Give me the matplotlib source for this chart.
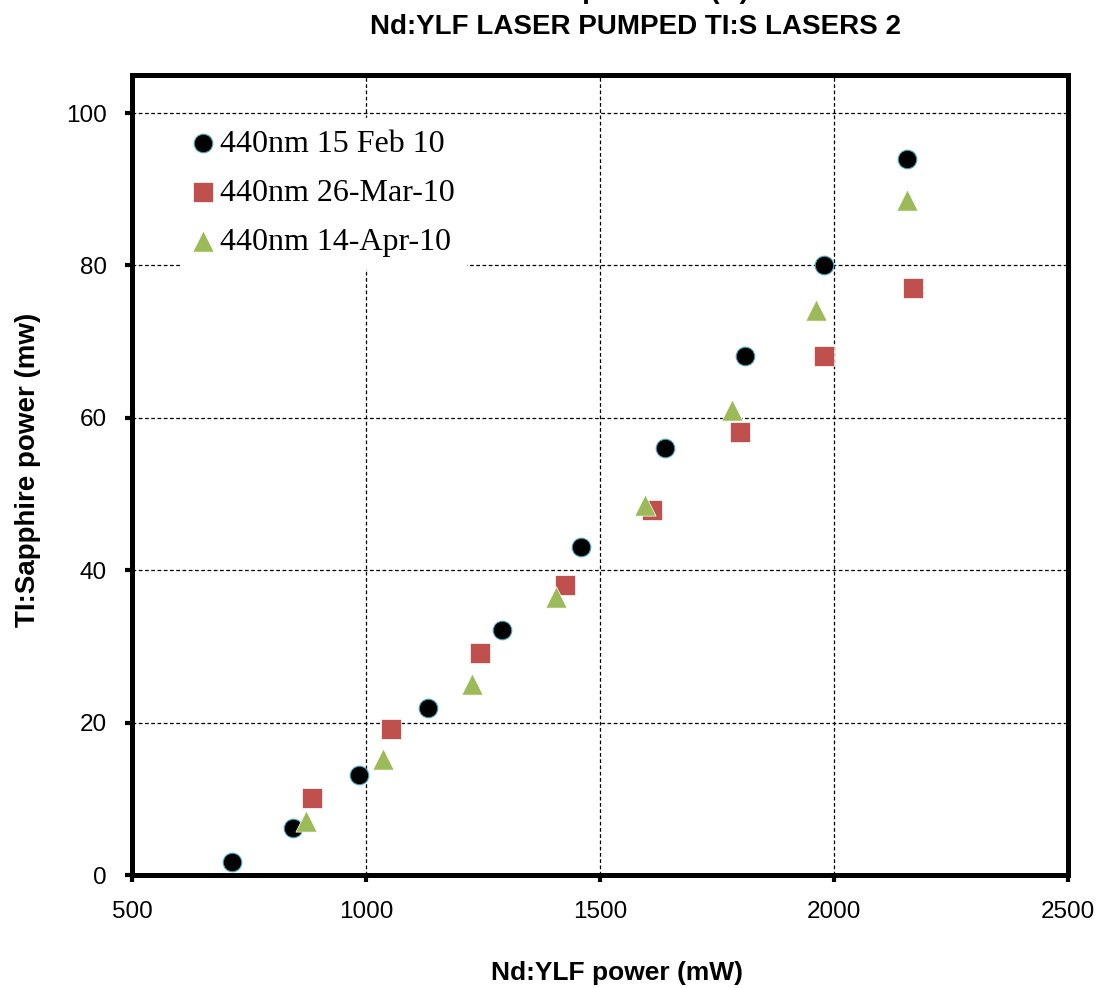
import matplotlib
matplotlib.use("Agg")
import matplotlib.pyplot as plt

# Data
feb_x = [713, 845, 985, 1132, 1291, 1460, 1638, 1809, 1979, 2157]
feb_y = [1.7, 6.2, 13.1, 21.9, 32.1, 43.1, 56.0, 68.1, 80.0, 94.0]
mar_x = [885, 1053, 1243, 1426, 1611, 1800, 1979, 2168]
mar_y = [10.1, 19.1, 29.1, 38.1, 47.9, 58.1, 68.1, 77.0]
apr_x = [872, 1036, 1226, 1406, 1596, 1783, 1962, 2155]
apr_y = [7.1, 15.2, 25.1, 36.5, 48.6, 61.0, 74.1, 88.6]
labels = ["440nm 15 Feb 10", "440nm 26-Mar-10", "440nm 14-Apr-10"]
x_ticks = [500, 1000, 1500, 2000, 2500]
y_ticks = [0, 20, 40, 60, 80, 100]

plt.rcParams['font.family'] = ['Liberation Sans', 'DejaVu Sans']

fig = plt.figure(figsize=(11, 9.88), dpi=100)
ax = fig.add_axes([132/1100, 1-875/988, (1068-132)/1100, (875-75)/988])

ms = 180
ax.scatter(feb_x, feb_y, s=ms, marker='o', color='black', edgecolors='#4bacc6',
           linewidths=0.8, zorder=3, label=labels[0])
ax.scatter(mar_x, mar_y, s=ms*1.08, marker='s', color='#C0504D', edgecolors='white',
           linewidths=0.5, zorder=3, label=labels[1])
ax.scatter(apr_x, apr_y, s=ms*1.3, marker='^', color='#9BBB59', edgecolors='white',
           linewidths=0.5, zorder=3, label=labels[2])

ax.set_xlim(500, 2500)
ax.set_ylim(0, 105)
ax.set_xticks(x_ticks)
ax.set_yticks(y_ticks)
ax.tick_params(axis='both', direction='out', length=5, width=3, labelsize=17.5, colors='black')
ax.tick_params(axis='x', pad=14)
ax.tick_params(axis='y', pad=13)
ax.grid(True, color='black', linestyle=(0, (3, 2)), linewidth=0.9, zorder=1)
for sp in ax.spines.values():
    sp.set_linewidth(3.6)
    sp.set_color('black')

ax.set_xlabel("Nd:YLF power (mW)", fontsize=19, fontweight='bold', labelpad=27)
ax.set_ylabel("TI:Sapphire power (mw)", fontsize=20, fontweight='bold', labelpad=18)
ax.xaxis.label.set_x((617-132)/936)
ax.yaxis.label.set_y((875-470)/800)

leg = ax.legend(loc='upper left', bbox_to_anchor=((182-132)/936, (875-118)/800), frameon=True,
                prop={'family': 'Liberation Serif', 'size': 23}, handletextpad=0.25,
                labelspacing=0.62, borderpad=0.35, handlelength=0.6,
                scatterpoints=1, borderaxespad=0, fancybox=False)
leg.get_frame().set_edgecolor('white')
leg.get_frame().set_facecolor('white')
leg.get_frame().set_alpha(1)
leg.set_zorder(5)

fig.text(635/1100, 1-27/988, "Nd:YLF LASER PUMPED TI:S LASERS 2", ha='center', va='center',
         fontsize=20, fontweight='bold')
fig.text(635/1100, 1+9/988, "Pump current (A)", ha='center', va='center',
         fontsize=20, fontweight='bold')

fig.savefig("out.png", dpi=100, facecolor='white')
